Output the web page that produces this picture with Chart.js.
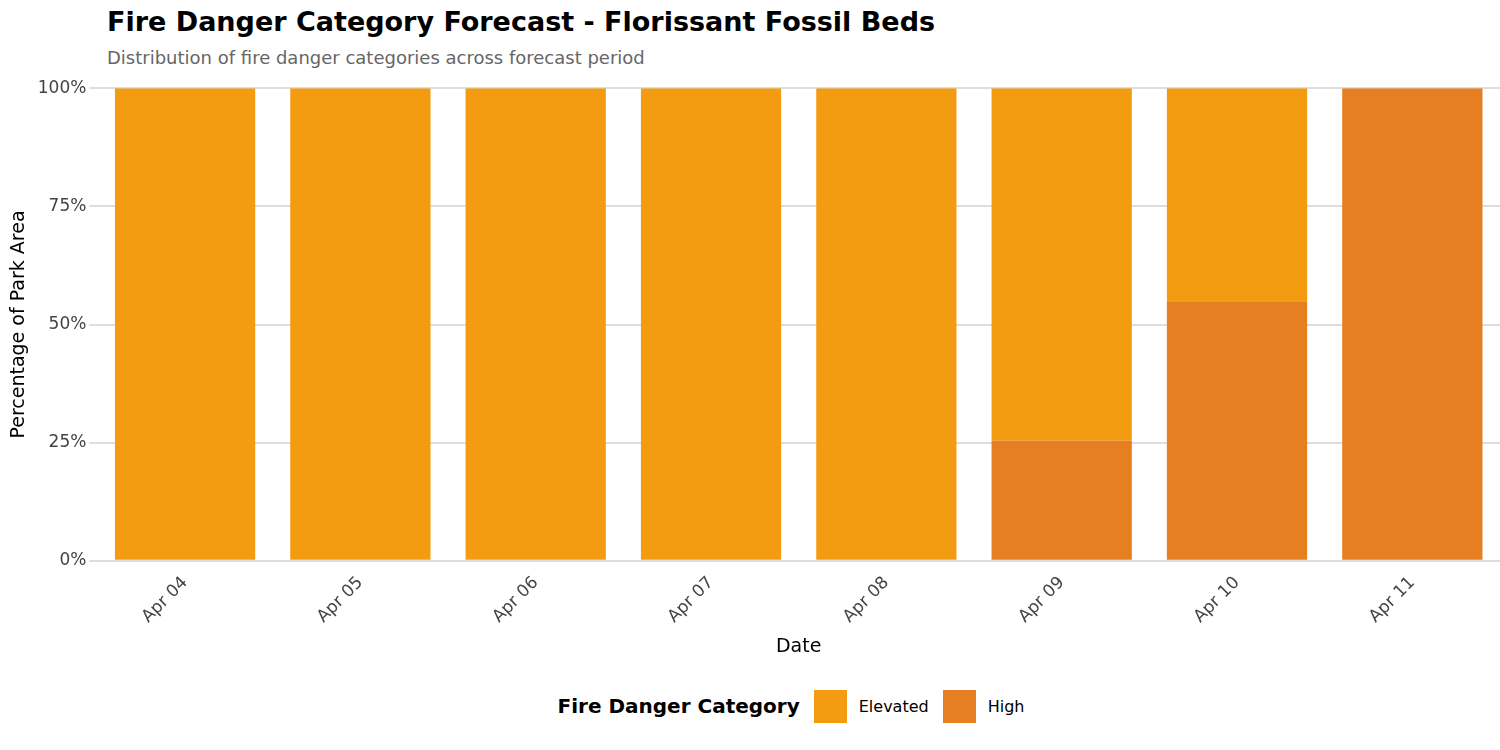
<!DOCTYPE html>
<html>
<head>
<meta charset="utf-8">
<script src="https://cdn.jsdelivr.net/npm/chart.js@4"></script>
<style>
  body { margin: 0; background: #fff; font-family: "DejaVu Sans", sans-serif; }
  #head { height: 75px; padding-left: 107px; position: relative; }
  #head .t { position: absolute; top: 6px; font-weight: bold; font-size: 27px; color: #000; }
  #head .s { position: absolute; top: 47px; font-size: 18px; color: #666; }
  #wrap { width: 1500px; height: 587px; position: relative; }
  #legend { display: flex; align-items: center; justify-content: center; height: 88px; padding-left: 96px; font-size: 16px; color: #000; }
  #legend .title { font-weight: bold; font-size: 20px; margin-right: 14px; }
  #legend .sw { width: 33px; height: 33px; display: inline-block; margin-right: 12px; }
  #legend .item { display: flex; align-items: center; margin-right: 14px; }
</style>
</head>
<body>
<div id="head"><span class="t">Fire Danger Category Forecast - Florissant Fossil Beds</span><span class="s">Distribution of fire danger categories across forecast period</span></div>
<div id="wrap"><canvas id="chart"></canvas></div>
<div id="legend"></div>
<script>
const dates = ["Apr 04", "Apr 05", "Apr 06", "Apr 07", "Apr 08", "Apr 09", "Apr 10", "Apr 11"];
const highPct = [0, 0, 0, 0, 0, 25.4, 54.9, 100];
const elevatedPct = [100, 100, 100, 100, 100, 74.6, 45.1, 0];
const yTicks = [0, 25, 50, 75, 100];

const colors = { Elevated: "#F39C12", High: "#E67E22" };

const ctx = document.getElementById("chart").getContext("2d");
new Chart(ctx, {
  type: "bar",
  data: {
    labels: dates,
    datasets: [
      { label: "High", data: highPct, backgroundColor: colors.High, barPercentage: 0.8, categoryPercentage: 1 },
      { label: "Elevated", data: elevatedPct, backgroundColor: colors.Elevated, barPercentage: 0.8, categoryPercentage: 1 },
    ],
  },
  options: {
    responsive: true,
    maintainAspectRatio: false,
    animation: false,
    layout: { padding: { left: 4, right: 0, top: 5 } },
    plugins: {
      legend: { display: false },
      tooltip: { enabled: false },
    },
    scales: {
      x: {
        stacked: true,
        grid: { display: false },
        border: { display: false },
        ticks: { maxRotation: 45, minRotation: 45, padding: 4, color: "#444", font: { family: "DejaVu Sans", size: 17 } },
        title: { display: true, text: "Date", color: "#000", font: { family: "DejaVu Sans", size: 19 } },
      },
      y: {
        stacked: true, min: 0, max: 100,
        afterBuildTicks: (axis) => { axis.ticks = yTicks.map((v) => ({ value: v })); },
        grid: { color: "#dddddd", lineWidth: 2 },
        border: { display: false },
        ticks: { color: "#444", font: { family: "DejaVu Sans", size: 17 }, callback: (v) => v + "%" },
        title: { display: true, text: "Percentage of Park Area", color: "#000", font: { family: "DejaVu Sans", size: 19 } },
      },
    },
  },
});

const legend = document.getElementById("legend");
let html = '<span class="title">Fire Danger Category</span>';
["Elevated", "High"].forEach((k) => {
  html += '<span class="item"><span class="sw" style="background:' + colors[k] + '"></span>' + k + "</span>";
});
legend.innerHTML = html;
</script>
</body>
</html>
